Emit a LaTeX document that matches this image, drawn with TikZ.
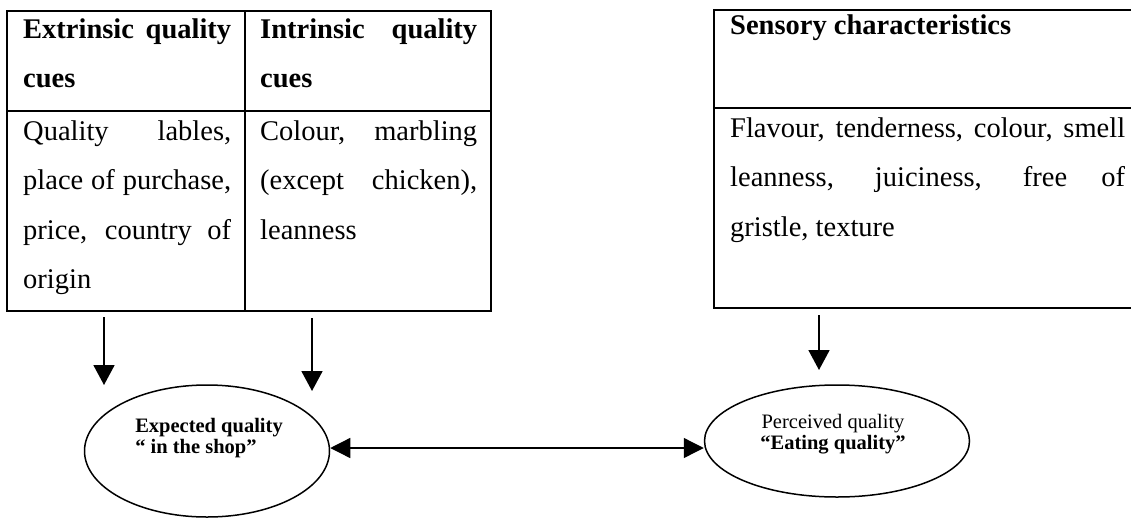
\documentclass[tikz,border=0pt]{standalone}
\usepackage{fontspec}
\setmainfont{Liberation Serif}
\usetikzlibrary{positioning,calc,shapes.geometric,arrows.meta}
\hyphenpenalty=10000
\tolerance=9999

\begin{document}
\begin{tikzpicture}[x=1pt,y=-1pt,
  cellbox/.style={draw,line width=1.4pt,anchor=north west,inner sep=0pt,outer sep=0pt},
  celltxt/.style={anchor=base west,inner sep=0pt,text width=#1,align=justify,
    font=\fontsize{28.5}{49.5}\selectfont},
  qual/.style={draw,ellipse,line width=1.5pt,inner sep=0pt},
  qualtxt/.style={inner sep=0pt,font=\fontsize{20.5}{21.5}\selectfont},
  cuearrow/.style={line width=1.8pt,-{Triangle[length=20pt,width=21pt]}},
  linkarrow/.style={line width=1.3pt,{Triangle[length=20pt,width=20pt]}-{Triangle[length=20pt,width=20pt]}}]
\useasboundingbox (0,0) rectangle (1131,519);
% cue table (left)
\node[cellbox,minimum width=238,minimum height=100] (exthead) at (7,11) {};
\node[cellbox,minimum width=246,minimum height=100] (inthead) at (245,11) {};
\node[cellbox,minimum width=238,minimum height=200] (extbody) at (7,111) {};
\node[cellbox,minimum width=246,minimum height=200] (intbody) at (245,111) {};
\node[celltxt=208] (extheadtxt) at ($(exthead.north west)+(16,27)$)
  {\bfseries Extrinsic quality\linebreak cues};
\node[celltxt=217] (intheadtxt) at ($(inthead.north west)+(15,27)$)
  {\bfseries Intrinsic quality\linebreak cues};
\node[celltxt=208] (extbodytxt) at ($(extbody.north west)+(16,29)$)
  {Quality lables,\linebreak place of purchase,\linebreak price, country of\linebreak origin};
\node[celltxt=217] (intbodytxt) at ($(intbody.north west)+(15,29)$)
  {Colour, marbling\linebreak (except chicken),\linebreak leanness};
% sensory table (right, runs off the page)
\node[cellbox,minimum width=430,minimum height=98] (senhead) at (714,10) {};
\node[cellbox,minimum width=430,minimum height=200] (senbody) at (714,108) {};
\node[celltxt=395] (senheadtxt) at ($(senhead.north west)+(16,25)$)
  {\bfseries Sensory characteristics};
\node[celltxt=395] (senbodytxt) at ($(senbody.north west)+(16,29)$)
  {Flavour, tenderness, colour, smell\linebreak leanness, juiciness, free of\linebreak gristle, texture};
% quality ellipses
\node[qual,minimum width=245,minimum height=132] (expq) at (207,451) {};
\node[qualtxt,align=left,font=\fontsize{20.5}{21.5}\selectfont\bfseries] (expqtxt)
  at ($(expq.center)+(2,-13)$) {Expected quality\\“ in the shop”};
\node[qual,minimum width=265,minimum height=112] (percq) at (837,441) {};
\node[qualtxt,align=center] (percqtxt) at ($(percq.center)+(-4,-7)$)
  {Perceived quality\\\textbf{“Eating quality”}};
% arrows
\coordinate (extfrom) at (104,317);
\coordinate (extto) at (104,385);
\coordinate (intfrom) at (312,318);
\coordinate (intto) at (312,391);
\coordinate (senfrom) at (819,315);
\coordinate (sento) at (819,370);
\draw[cuearrow] (extfrom) -- (extto);
\draw[cuearrow] (intfrom) -- (intto);
\draw[cuearrow] (senfrom) -- (sento);
\draw[linkarrow] ($(expq.east)+(0,-3)$) -- ($(percq.west)+(0,7)$);
\end{tikzpicture}
\end{document}
